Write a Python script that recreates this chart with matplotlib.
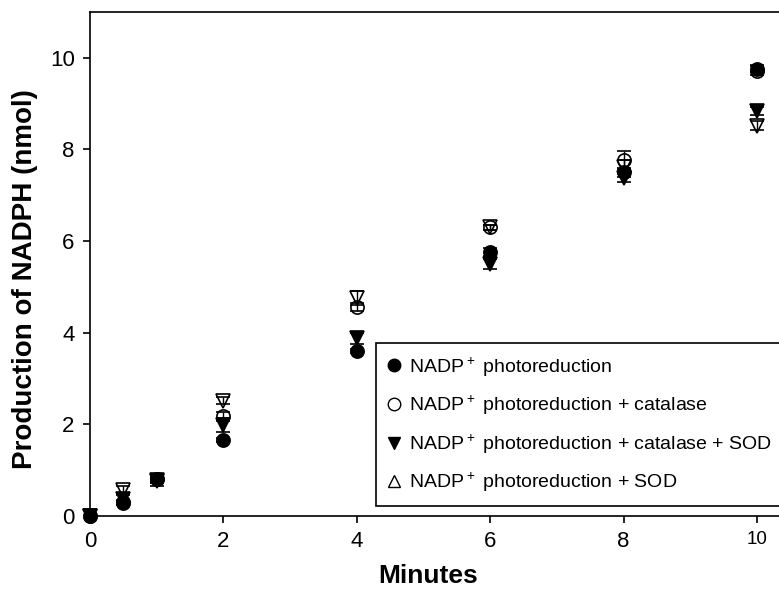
import matplotlib
matplotlib.use("Agg")
import matplotlib.pyplot as plt
from matplotlib.lines import Line2D

plt.rcParams["font.family"] = ["Liberation Sans", "DejaVu Sans"]
plt.rcParams["mathtext.fontset"] = "custom"
plt.rcParams["mathtext.rm"] = "Liberation Sans"

# Dados
minutos = [0, 0.5, 1, 2, 4, 6, 8, 10]
foto = [0, 0.28, 0.80, 1.66, 3.60, 5.76, 7.50, 9.76]
foto_err = [0, 0.05, 0.05, 0.05, 0.05, 0.08, 0.10, 0.08]
catalase = [0, 0.30, 0.80, 2.18, 4.56, 6.30, 7.77, 9.72]
catalase_err = [0, 0.05, 0.08, 0.10, 0.08, 0.05, 0.20, 0.10]
cat_sod = [0, 0.38, 0.78, 1.99, 3.88, 5.50, 7.38, 8.84]
cat_sod_err = [0, 0.08, 0.05, 0.15, 0.12, 0.10, 0.10, 0.08]
sod = [0, 0.57, 0.76, 2.52, 4.76, 6.30, 7.62, 8.52]
sod_err = [0, 0.08, 0.10, 0.08, 0.15, 0.05, 0.15, 0.10]

rotulos = [
    r"NADP$^+$ photoreduction",
    r"NADP$^+$ photoreduction + catalase",
    r"NADP$^+$ photoreduction + catalase + SOD",
    r"NADP$^+$ photoreduction + SOD",
]

fig = plt.figure(figsize=(7.79, 5.93), dpi=100)
ax = fig.add_axes([90 / 779, 77 / 593, 10.6 * 66.7 / 779, 504 / 593])

series = [
    (foto, foto_err, "o", "black"),
    (catalase, catalase_err, "o", "none"),
    (cat_sod, cat_sod_err, "v", "black"),
    (sod, sod_err, "v", "none"),
]
for y, e, m, fc in series:
    ax.errorbar(minutos, y, yerr=e, fmt=m, ms=9.5, mfc=fc, mec="black", mew=1.2,
                ecolor="black", elinewidth=1.0, capsize=5, capthick=1.0,
                clip_on=False, zorder=3)

ax.set_xlim(0, 10.6)
ax.set_ylim(0, 11)
ax.set_xticks([0, 2, 4, 6, 8, 10])
ax.set_yticks([0, 2, 4, 6, 8, 10])
ax.tick_params(direction="out", length=5, width=1.2, labelsize=16, pad=6)
ax.get_xticklabels()[-1].set_fontsize(13.5)
for s in ax.spines.values():
    s.set_linewidth(1.2)

ax.set_xlabel("Minutes", fontsize=19, fontweight="bold")
ax.xaxis.set_label_coords((428 - 90) / 707, -0.095)
ax.set_ylabel("Production of NADPH (nmol)", fontsize=20, fontweight="bold")
ax.yaxis.set_label_coords(-0.073, 0.47)

handles = [
    Line2D([], [], ls="none", marker="o", ms=9, mfc="black", mec="black"),
    Line2D([], [], ls="none", marker="o", ms=9, mfc="none", mec="black", mew=1.0),
    Line2D([], [], ls="none", marker="v", ms=9, mfc="black", mec="black"),
    Line2D([], [], ls="none", marker="^", ms=8, mfc="none", mec="black", mew=1.0),
]
leg = fig.legend(handles, rotulos, loc="lower left",
                 bbox_to_anchor=(376 / 779, 87 / 593, 450 / 779, 163 / 593),
                 bbox_transform=fig.transFigure, mode="expand",
                 fontsize=14, frameon=True, fancybox=False, edgecolor="black",
                 framealpha=1, handlelength=0.7, handletextpad=0.4,
                 labelspacing=0.75, borderpad=0.6, borderaxespad=0)
leg.get_frame().set_linewidth(1.2)

fig.savefig("out.png", dpi=100)
